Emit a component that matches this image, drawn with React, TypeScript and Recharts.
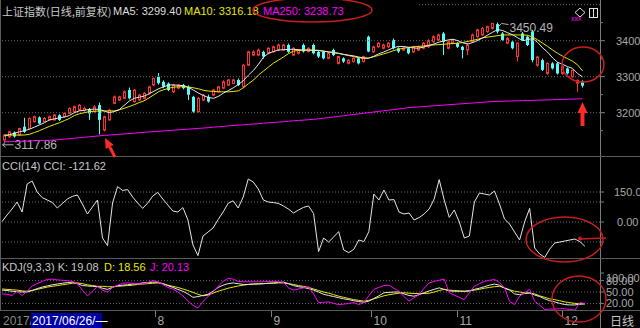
import React from 'react';
import { ComposedChart, Bar, Line, XAxis, YAxis, ReferenceLine } from 'recharts';

// daily candles, 上证指数 (前复权)
const opens = [
  3124, 3133, 3145, 3138, 3161, 3156, 3175, 3187, 3175, 3180,
  3180, 3193, 3189, 3198, 3203, 3207, 3206, 3210, 3203, 3221,
  3152, 3180, 3226, 3235, 3240, 3263, 3231, 3235, 3240, 3254,
  3277, 3300, 3286, 3281, 3258, 3268, 3277, 3272, 3244, 3203,
  3235, 3244, 3249, 3258, 3268, 3277, 3281, 3291, 3272, 3332,
  3360, 3360, 3369, 3365, 3369, 3374, 3374, 3388, 3360, 3365,
  3388, 3370, 3388, 3369, 3369, 3351, 3374, 3337, 3351, 3337,
  3342, 3351, 3342, 3411, 3369, 3383, 3379, 3383, 3402, 3379,
  3374, 3379, 3369, 3374, 3379, 3383, 3397, 3402, 3420, 3379,
  3393, 3393, 3383, 3374, 3397, 3411, 3416, 3425, 3434, 3446,
  3420, 3393, 3397, 3356, 3420, 3411, 3425, 3332, 3346, 3309,
  3337, 3337, 3309, 3323, 3300, 3282, 3286,
];
const highs = [
  3140, 3150, 3148, 3158, 3186, 3187, 3192, 3190, 3188, 3192,
  3196, 3196, 3201, 3215, 3220, 3224, 3217, 3213, 3221, 3228,
  3192, 3210, 3248, 3247, 3262, 3270, 3266, 3252, 3257, 3275,
  3298, 3310, 3290, 3284, 3280, 3280, 3280, 3276, 3247, 3243,
  3252, 3250, 3266, 3275, 3290, 3294, 3294, 3295, 3335, 3372,
  3373, 3378, 3372, 3382, 3386, 3392, 3391, 3392, 3382, 3377,
  3392, 3382, 3392, 3372, 3372, 3368, 3378, 3358, 3354, 3349,
  3354, 3354, 3358, 3414, 3386, 3396, 3392, 3396, 3406, 3382,
  3383, 3382, 3386, 3386, 3396, 3404, 3415, 3420, 3424, 3400,
  3405, 3396, 3386, 3392, 3420, 3433, 3438, 3442, 3449, 3450.49,
  3424, 3410, 3400, 3395, 3424, 3414, 3430, 3358, 3350, 3340,
  3340, 3340, 3330, 3326, 3320, 3292, 3290,
];
const lows = [
  3117.86, 3130, 3131, 3135, 3144, 3154, 3173, 3168, 3173, 3178,
  3178, 3177, 3186, 3196, 3200, 3205, 3203, 3180, 3200, 3140,
  3148, 3178, 3224, 3233, 3238, 3237, 3228, 3232, 3237, 3251,
  3274, 3278, 3268, 3260, 3255, 3265, 3265, 3235, 3200, 3200,
  3232, 3228, 3246, 3256, 3265, 3274, 3279, 3274, 3270, 3330,
  3357, 3357, 3350, 3362, 3367, 3371, 3372, 3366, 3357, 3362,
  3367, 3367, 3362, 3352, 3348, 3348, 3357, 3334, 3338, 3334,
  3339, 3334, 3339, 3368, 3366, 3380, 3376, 3380, 3376, 3366,
  3371, 3362, 3366, 3371, 3376, 3380, 3394, 3399, 3360, 3376,
  3390, 3380, 3351, 3360, 3394, 3408, 3413, 3422, 3431, 3420,
  3400, 3390, 3376, 3342, 3400, 3385, 3340, 3328, 3316, 3305,
  3320, 3306, 3305, 3306, 3297, 3258, 3270,
];
const closes = [
  3138, 3147, 3134, 3156, 3147, 3184, 3189, 3170, 3184, 3189,
  3194, 3180, 3198, 3212, 3217, 3221, 3212, 3198, 3216, 3180,
  3189, 3207, 3244, 3244, 3258, 3240, 3263, 3249, 3254, 3272,
  3295, 3282, 3272, 3263, 3277, 3277, 3268, 3250, 3203, 3240,
  3249, 3231, 3263, 3272, 3286, 3291, 3291, 3277, 3332, 3369,
  3369, 3374, 3356, 3379, 3383, 3388, 3388, 3369, 3379, 3374,
  3370, 3379, 3365, 3356, 3351, 3365, 3360, 3356, 3342, 3346,
  3351, 3337, 3356, 3370, 3383, 3393, 3388, 3393, 3379, 3370,
  3379, 3365, 3383, 3383, 3393, 3400, 3411, 3416, 3397, 3397,
  3402, 3383, 3374, 3388, 3416, 3430, 3434, 3439, 3448, 3425,
  3402, 3406, 3379, 3393, 3402, 3388, 3346, 3355, 3319, 3337,
  3323, 3309, 3328, 3309, 3318, 3290, 3275,
];

// moving averages as drawn
const ma5 = [
  3135, 3139, 3143, 3147, 3150, 3154, 3160, 3166, 3172, 3180,
  3183, 3186, 3188, 3192, 3200, 3205, 3207, 3209, 3210, 3209,
  3205, 3200, 3203, 3208, 3220, 3232, 3240, 3243, 3246, 3252,
  3260, 3267, 3272, 3277, 3277, 3276, 3275, 3270, 3262, 3254,
  3247, 3242, 3240, 3246, 3255, 3262, 3270, 3279, 3290, 3305,
  3318, 3335, 3355, 3365, 3370, 3374, 3375, 3376, 3376, 3375,
  3374, 3374, 3373, 3373, 3371, 3369, 3367, 3365, 3362, 3360,
  3358, 3355, 3352, 3351, 3356, 3363, 3368, 3374, 3380, 3384,
  3384, 3382, 3380, 3379, 3382, 3386, 3390, 3395, 3399, 3402,
  3404, 3400, 3394, 3391, 3395, 3401, 3408, 3416, 3424, 3431,
  3428, 3422, 3416, 3408, 3400, 3403, 3406, 3395, 3380, 3368,
  3352, 3340, 3334, 3328, 3323, 3309, 3299.4,
];
const ma10 = [
  3138, 3138, 3138, 3138, 3138, 3140, 3145, 3150, 3156, 3162,
  3167, 3172, 3178, 3184, 3192, 3197, 3200, 3203, 3204, 3205,
  3205, 3205, 3205, 3208, 3212, 3217, 3222, 3228, 3233, 3241,
  3250, 3259, 3264, 3268, 3271, 3272, 3272, 3271, 3269, 3266,
  3262, 3260, 3259, 3258, 3258, 3258, 3259, 3261, 3270, 3281,
  3291, 3305, 3316, 3327, 3338, 3346, 3355, 3364, 3371, 3373,
  3374, 3374, 3374, 3373, 3371, 3369, 3367, 3365, 3362, 3359,
  3356, 3353, 3351, 3352, 3355, 3359, 3363, 3367, 3372, 3376,
  3379, 3381, 3383, 3384, 3385, 3387, 3388, 3389, 3390, 3391,
  3392, 3393, 3395, 3398, 3401, 3404, 3408, 3410, 3412, 3414,
  3416, 3416, 3416, 3416, 3416, 3415, 3410, 3402, 3393, 3384,
  3374, 3365, 3357, 3350, 3343, 3333, 3316.18,
];
const ma250 = [
  3119, 3119.5, 3120, 3120.5, 3121, 3121.5, 3122, 3122.5, 3123, 3123.5,
  3124, 3125.3, 3126.6, 3127.9, 3129.2, 3130.5, 3131.8, 3133.1, 3134.4, 3135.7,
  3137, 3138, 3139, 3140, 3141, 3142, 3143, 3144.5, 3145.5, 3146.5,
  3147.5, 3148.5, 3149.5, 3150.5, 3151.5, 3152.5, 3153.5, 3154.5, 3155.5, 3156.5,
  3157.5, 3158.5, 3160, 3161, 3162, 3163.5, 3164.5, 3165.5, 3166.5, 3167.5,
  3168.5, 3169.5, 3171, 3172, 3173, 3174, 3175, 3176.5, 3177.5, 3178.5,
  3179.5, 3180.5, 3181.5, 3183, 3184.7, 3186.4, 3188.1, 3189.8, 3191.5, 3193.2,
  3194.9, 3196.6, 3198.3, 3200, 3201.7, 3203.4, 3205.1, 3206.8, 3208.5, 3210.2,
  3212, 3214, 3215, 3216, 3217, 3218, 3219, 3220, 3221, 3222,
  3223, 3224, 3225, 3226, 3227, 3228, 3229, 3230, 3231, 3231.4,
  3231.8, 3232.3, 3232.7, 3233.1, 3233.5, 3234, 3234.4, 3234.8, 3235.2, 3235.6,
  3236, 3236.5, 3237, 3237.4, 3237.8, 3238.3, 3238.73,
];

// CCI(14)
const cci = [
  2, 35, 65, 100, 50, 190, 205, 150, 122, 110,
  98, 70, 92, 115, 128, 135, 90, 40, 75, 110,
  -80, -118, 95, 177, 158, 162, 125, 95, 68, 95,
  130, 148, 115, 85, 55, 50, 72, 10, -115, -168,
  -70, -50, -30, 12, 50, 93, 106, 70, 125, 215,
  200, 165, 110, 100, 97, 93, 80, 65, 45, 60,
  73, 80, 43, -148, -80, -100, -75, -48, -140, -153,
  -137, -90, -98, -48, 140, 110, 160, 110, 112, 50,
  40, 45, 10, 22, 40, 65, 115, 212, 110, 23,
  60, 0, -80, -70, 100, 145, 140, 135, 155, 90,
  15, -10, -50, -90, 0, 68, -130, -160, -177, -135,
  -105, -100, -95, -90, -85, -98, -121.62,
];

// KDJ(9,3,3)
const kLine = [
  55, 54, 52, 51, 50, 50, 54, 59, 63, 66,
  69, 71, 73, 75, 76, 72, 67, 66, 65, 64,
  60, 57, 62, 67, 68, 69, 71, 72, 74, 75,
  76, 76, 72, 67, 62, 57, 52, 45, 36, 38,
  41, 44, 52, 62, 68, 72, 74, 72, 70, 70,
  71, 71, 72, 73, 74, 75, 76, 72, 67, 64,
  62, 59, 55, 50, 44, 41, 38, 35, 32, 30,
  27, 25, 23, 26, 33, 40, 48, 49, 50, 50,
  45, 41, 39, 43, 48, 53, 57, 61, 57, 53,
  52, 52, 52, 53, 57, 60, 64, 68, 71, 68,
  60, 55, 45, 43, 46, 48, 42, 38, 32, 27,
  24, 20, 17, 16, 16, 18, 19.08,
];
const dLine = [
  58, 57, 56, 55, 53, 52, 54, 57, 60, 63,
  65, 67, 69, 71, 73, 74, 72, 69, 67, 65,
  65, 64, 64, 65, 66, 67, 68, 70, 71, 72,
  73, 74, 72, 68, 65, 62, 58, 54, 49, 44,
  40, 42, 47, 52, 56, 60, 63, 66, 68, 70,
  71, 72, 72, 73, 73, 74, 74, 72, 70, 67,
  65, 62, 58, 54, 50, 47, 43, 39, 36, 33,
  30, 28, 26, 28, 32, 36, 40, 43, 45, 47,
  48, 47, 46, 46, 46, 47, 50, 54, 57, 55,
  54, 53, 52, 53, 55, 57, 60, 62, 64, 65,
  61, 56, 52, 50, 48, 47, 45, 40, 36, 32,
  30, 27, 24, 22, 20, 19, 18.56,
];
const jLine = [
  45, 44, 41, 52, 41, 52, 66, 72, 78, 83,
  84, 82, 81, 80, 78, 72, 55, 40, 52, 65,
  55, 50, 62, 68, 73, 74, 73, 72, 71, 75,
  80, 77, 70, 62, 58, 50, 40, 26, 15, 8,
  25, 38, 50, 65, 78, 86, 84, 78, 77, 77,
  77, 77, 77, 78, 78, 77, 76, 61, 55, 58,
  61, 64, 45, 22, 23, 24, 20, 17, 18, 20,
  22, 17, 22, 40, 57, 62, 67, 68, 60, 52,
  38, 26, 35, 43, 60, 74, 78, 81, 84, 48,
  42, 36, 30, 48, 65, 72, 78, 81, 83, 75,
  61, 25, 17, 39, 48, 57, 26, 15, 4, 5,
  5, 6, 6, 4, 2, 22, 20.13,
];

// first trading day of each month on the time axis
const monthStarts = [31, 54, 74, 91, 112];
const monthNames = ['8', '9', '10', '11', '12'];

const priceTicks = [3150, 3200, 3250, 3300, 3350, 3400, 3450];
const priceGrid = [3200, 3300, 3400, 3500];
const cciTicks = [-100, 0, 100, 150];
const cciGrid = [150, 100, 0, -100];
const kdjTicks = [20, 50, 80, 100];
const kdjGrid = [80, 50, 20];

const PAD = 3; // empty slots right of the last candle

const RED = '#ff3232';
const CYAN = '#54fcfc';
const YELLOW = '#e8e800';
const MAGENTA = '#ff00ff';
const WHITE = '#e6e6e6';
const GRID = '#6a6a6a';
const SEP = '#5a5a5a';
const AXIS_TXT = '#a8a8a8';
const ANNOT = '#c81e1e';
const LATIN = '"Liberation Sans", Arial, sans-serif';
const CJK = '"Noto Sans CJK SC", "Liberation Sans", sans-serif';

const AXIS_X = 600;
const PLOT_W = 598;

const rows = Array.from({ length: closes.length + PAD }, (_, i) =>
  i < closes.length
    ? {
        idx: i,
        open: opens[i],
        high: highs[i],
        low: lows[i],
        close: closes[i],
        ma5: ma5[i],
        ma10: ma10[i],
        ma250: ma250[i],
        cci: cci[i],
        k: kLine[i],
        d: dLine[i],
        j: jLine[i],
      }
    : { idx: i }
);

const maxHighIdx = highs.indexOf(Math.max(...highs));
const minLowIdx = lows.indexOf(Math.min(...lows));
const last = (a: number[]) => a[a.length - 1].toFixed(2);

function Candle(props: any) {
  const { x, y, width, height, payload } = props;
  if (!payload || payload.high == null) return <g />;
  const top = height < 0 ? y + height : y;
  const h = Math.abs(height);
  const span = payload.high - payload.low;
  const k = span > 0 ? h / span : 0;
  const at = (v: number) => top + (payload.high - v) * k;
  const px = Math.round(x + width / 2 - 0.5);
  const cx = px + 0.5;
  const bottom = top + h;
  const up = payload.close >= payload.open;
  const bTop = at(Math.max(payload.open, payload.close));
  const bBot = at(Math.min(payload.open, payload.close));

  return (
    <g>
      {up ? (
        <g>
          <line x1={cx} x2={cx} y1={top} y2={bTop} stroke={RED} />
          <line x1={cx} x2={cx} y1={bBot} y2={bottom} stroke={RED} />
          <rect x={px - 0.5} y={bTop} width={2} height={Math.max(bBot - bTop, 0.5)} fill="#000" stroke={RED} />
        </g>
      ) : (
        <g>
          <line x1={cx} x2={cx} y1={top} y2={bottom} stroke={CYAN} />
          <rect x={px - 1} y={bTop} width={3} height={Math.max(bBot - bTop, 1)} fill={CYAN} />
        </g>
      )}
      {payload.idx === maxHighIdx && (
        <g>
          <path d={`M${cx + 1},${top + 4} L${cx + 4},${top + 1} L${cx + 11},${top + 2}`} stroke="#b0b0b0" fill="none" />
          <text x={cx + 12} y={top + 5} dominantBaseline="central" fill="#b4b4b4" fontSize={12} fontFamily={LATIN}>
            {payload.high.toFixed(2)}
          </text>
        </g>
      )}
      {payload.idx === minLowIdx && (
        <g>
          <path d={`M${cx + 9},${bottom + 2.5} L${cx - 2},${bottom + 2.5} M${cx + 1},${bottom} L${cx - 2},${bottom + 2.5} L${cx + 1},${bottom + 5}`} stroke="#b0b0b0" fill="none" />
          <text x={cx + 10} y={bottom + 3} dominantBaseline="central" fill="#b4b4b4" fontSize={12} fontFamily={LATIN}>
            {payload.low.toFixed(2)}
          </text>
        </g>
      )}
    </g>
  );
}

function PriceTick(props: any) {
  const { y, payload } = props;
  const v = payload.value;
  const major = v % 100 === 0;
  return (
    <g>
      <line x1={AXIS_X} x2={AXIS_X + (major ? 5 : 3)} y1={y} y2={y} stroke="#808080" />
      {major && (
        <text x={616} y={y} dominantBaseline="central" fill={AXIS_TXT} fontSize={11} fontFamily={LATIN}>
          {v}
        </text>
      )}
    </g>
  );
}

function CciTick(props: any) {
  const { y, payload } = props;
  const v = payload.value;
  const label = v === 150 || v === 0;
  return (
    <g>
      <line x1={AXIS_X} x2={AXIS_X + 4} y1={y} y2={y} stroke="#808080" />
      {label && (
        <text x={v === 0 ? 617 : 614} y={y} dominantBaseline="central" fill={AXIS_TXT} fontSize={11} fontFamily={LATIN}>
          {v.toFixed(2)}
        </text>
      )}
    </g>
  );
}

function KdjTick(props: any) {
  const { y, payload } = props;
  const v = payload.value;
  return (
    <g>
      <line x1={AXIS_X} x2={AXIS_X + 4} y1={y} y2={y} stroke="#808080" />
      <text x={606} y={v === 100 ? y + 5 : y} dominantBaseline="central" fill={AXIS_TXT} fontSize={11} fontFamily={LATIN}>
        {v.toFixed(2)}
      </text>
    </g>
  );
}

function MonthTick(props: any) {
  const { x, payload } = props;
  const n = monthStarts.indexOf(payload.value);
  const left = Math.round(x - PLOT_W / rows.length / 2) + 0.5;
  return (
    <g>
      <line x1={left} x2={left} y1={52} y2={58} stroke="#808080" />
      <text x={left + 2} y={62} dominantBaseline="central" fill={AXIS_TXT} fontSize={12} fontFamily={LATIN}>
        {monthNames[n]}
      </text>
    </g>
  );
}

const dotted = (v: number) => (
  <ReferenceLine key={v} y={v} stroke={GRID} strokeDasharray="1 2" ifOverflow="visible" />
);

export default function App() {
  return (
    <div style={{ position: 'fixed', left: 0, top: 0, width: 640, height: 328, background: '#000', overflow: 'hidden' }}>
      <div style={{ position: 'absolute', left: 0, top: 0 }}>
        <ComposedChart width={640} height={157} data={rows} margin={{ top: 0, right: 0, bottom: 0, left: 2 }}>
          <XAxis dataKey="idx" hide />
          <YAxis
            orientation="right"
            width={40}
            domain={[3077, 3513]}
            ticks={priceTicks}
            allowDataOverflow
            axisLine={false}
            tickLine={false}
            interval={0}
            tick={(p: any) => <PriceTick {...p} />}
          />
          {priceGrid.map(dotted)}
          <Line dataKey="ma250" stroke={MAGENTA} strokeWidth={1} dot={false} isAnimationActive={false} />
          <Bar
            dataKey={(r: any) => (r.high == null ? null : [r.low, r.high])}
            shape={(p: any) => <Candle {...p} />}
            isAnimationActive={false}
          />
          <Line dataKey="ma10" stroke={YELLOW} strokeWidth={1} dot={false} isAnimationActive={false} />
          <Line dataKey="ma5" stroke={WHITE} strokeWidth={1} dot={false} isAnimationActive={false} />
        </ComposedChart>
      </div>

      <div style={{ position: 'absolute', left: 0, top: 157 }}>
        <ComposedChart width={640} height={102} data={rows} margin={{ top: 0, right: 0, bottom: 0, left: 2 }}>
          <XAxis dataKey="idx" hide />
          <YAxis
            orientation="right"
            width={40}
            domain={[-185, 325]}
            ticks={cciTicks}
            allowDataOverflow
            axisLine={false}
            tickLine={false}
            interval={0}
            tick={(p: any) => <CciTick {...p} />}
          />
          {cciGrid.map(dotted)}
          <Line dataKey="cci" stroke={WHITE} strokeWidth={1} dot={false} isAnimationActive={false} />
        </ComposedChart>
      </div>

      <div style={{ position: 'absolute', left: 0, top: 259 }}>
        <ComposedChart width={640} height={69} data={rows} margin={{ top: 0, right: 0, bottom: 0, left: 2 }}>
          <XAxis
            dataKey="idx"
            height={17}
            ticks={monthStarts}
            interval={0}
            axisLine={false}
            tickLine={false}
            tick={(p: any) => <MonthTick {...p} />}
          />
          <YAxis
            orientation="right"
            width={40}
            domain={[0, 137]}
            ticks={kdjTicks}
            allowDataOverflow
            axisLine={false}
            tickLine={false}
            interval={0}
            tick={(p: any) => <KdjTick {...p} />}
          />
          {kdjGrid.map(dotted)}
          <Line dataKey="d" stroke={YELLOW} strokeWidth={1} dot={false} isAnimationActive={false} />
          <Line dataKey="k" stroke={WHITE} strokeWidth={1} dot={false} isAnimationActive={false} />
          <Line dataKey="j" stroke={MAGENTA} strokeWidth={1} dot={false} isAnimationActive={false} />
        </ComposedChart>
      </div>

      <svg width={640} height={328} style={{ position: 'absolute', left: 0, top: 0, pointerEvents: 'none' }}>
        {/* frame */}
        <line x1={0.5} x2={0.5} y1={0} y2={311} stroke={SEP} />
        <line x1={600.5} x2={600.5} y1={0} y2={328} stroke="#7a7a7a" />
        <line x1={0} x2={640} y1={156.5} y2={156.5} stroke={SEP} />
        <line x1={0} x2={640} y1={258.5} y2={258.5} stroke={SEP} />
        <line x1={0} x2={640} y1={310.5} y2={310.5} stroke={SEP} />

        {/* main header */}
        <rect x={1} y={0} width={416} height={10} fill="#000" />
        <text x={2} y={11} dominantBaseline="central" fontSize={11} fontFamily={CJK} fill="#c8c8c8">
          上证指数(日线,前复权)
        </text>
        <text x={113} y={11} dominantBaseline="central" fontSize={11} fontFamily={LATIN} fill="#dcdcdc">
          MA5: {last(ma5)}
        </text>
        <text x={184} y={11} dominantBaseline="central" fontSize={11} fontFamily={LATIN} fill={YELLOW}>
          MA10: {last(ma10)}
        </text>
        <text x={263} y={11} dominantBaseline="central" fontSize={11} fontFamily={LATIN} fill={MAGENTA}>
          MA250: {last(ma250)}
        </text>

        {/* top-right icons */}
        <path d="M580,8 L585,12.5 L580,17 L575,12.5 Z" fill="none" stroke="#e0e0e0" />
        <rect x={589.5} y={8.5} width={8} height={9} fill="none" stroke="#e0e0e0" />
        <line x1={593.5} x2={593.5} y1={8.5} y2={17.5} stroke="#e0e0e0" />
        <text x={571} y={21} fontSize={7} fontFamily={LATIN} fill={MAGENTA}>xxx</text>

        {/* CCI header */}
        <text x={2} y={166} dominantBaseline="central" fontSize={11} fontFamily={LATIN} fill="#c8c8c8">
          CCI(14) CCI: {last(cci)}
        </text>

        {/* KDJ header */}
        <text x={2} y={267} dominantBaseline="central" fontSize={11} fontFamily={LATIN} fill="#c8c8c8">
          KDJ(9,3,3) K: {last(kLine)}
        </text>
        <text x={104} y={267} dominantBaseline="central" fontSize={11} fontFamily={LATIN} fill={YELLOW}>
          D: {last(dLine)}
        </text>
        <text x={150} y={267} dominantBaseline="central" fontSize={11} fontFamily={LATIN} fill={MAGENTA}>
          J: {last(jLine)}
        </text>

        {/* bottom axis extras */}
        <text x={3} y={321} dominantBaseline="central" fontSize={12} fontFamily={LATIN} fill="#8a8a8a">2017/</text>
        <rect x={31} y={313} width={71} height={15} fill="#0000a8" />
        <text x={32} y={321} dominantBaseline="central" fontSize={12} fontFamily={LATIN} fill="#ffffff">
          2017/06/26/—
        </text>
        <text x={610} y={320} dominantBaseline="central" fontSize={12} fontFamily={CJK} fill="#c8c8c8">
          日线
        </text>

        {/* hand-drawn annotations */}
        <ellipse cx={312.5} cy={10} rx={59.5} ry={12} fill="none" stroke={ANNOT} strokeWidth={1.5} />
        <ellipse cx={583} cy={64.5} rx={21} ry={17.5} fill="none" stroke={ANNOT} strokeWidth={1.5} />
        <ellipse cx={564.5} cy={239.5} rx={38.5} ry={22.5} fill="none" stroke={ANNOT} strokeWidth={1.5} />
        <ellipse cx={579} cy={299} rx={27} ry={23} fill="none" stroke={ANNOT} strokeWidth={1.5} />
        <path d="M579,239 L606,238" stroke={ANNOT} strokeWidth={1.5} fill="none" />
        <circle cx={580} cy={238.5} r={2} fill={ANNOT} />

        <line x1={109.6} y1={146.8} x2={115} y2={157} stroke="#ff2a2a" strokeWidth={3} />
        <polygon points="105,138 113.6,144.7 105.7,148.9" fill="#ff2a2a" />

        <polygon points="582.5,102 587.5,113 577.5,113" fill="#ff2a2a" />
        <rect x={580.5} y={112} width={4} height={14} fill="#ff2a2a" />
      </svg>
    </div>
  );
}
